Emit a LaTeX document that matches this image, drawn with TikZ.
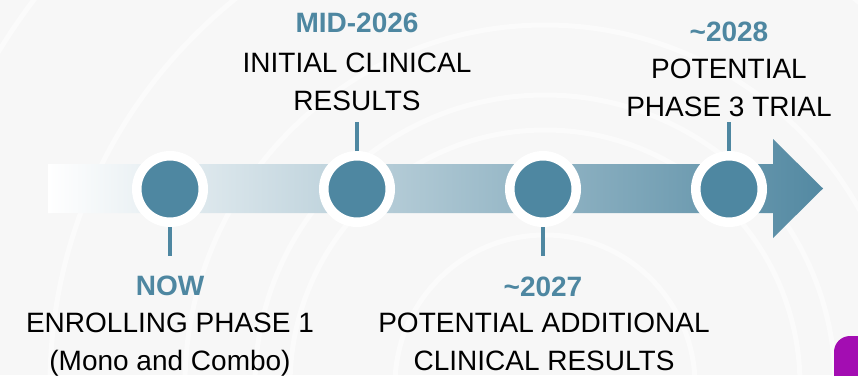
\documentclass[tikz,border=0pt]{standalone}
\usepackage{fontspec}
\setmainfont{Liberation Sans}
\usetikzlibrary{positioning}

\definecolor{teal1}{HTML}{4E87A1}
\definecolor{arrowend}{HTML}{5389A2}
\definecolor{bggray}{HTML}{F7F7F7}
\definecolor{accent}{HTML}{A30DB2}

\begin{document}
\begin{tikzpicture}[
  x=1pt, y=-1pt,
  milestone/.style={circle, fill=teal1, draw=white, line width=9.5pt, minimum size=66.5pt, inner sep=0pt, outer sep=0pt},
  tick/.style={draw=teal1, line width=4pt},
  date/.style={font=\fontsize{28}{37.5}\selectfont\bfseries, text=teal1, anchor=base, inner sep=0pt},
  desc/.style={font=\fontsize{28}{37.5}\selectfont, align=center, anchor=base, inner sep=0pt}
]
  % page with faint rings
  \fill[bggray] (0,0) rectangle (858,375);
  \useasboundingbox (0,0) rectangle (858,375);
  \begin{scope}
    \clip (0,0) rectangle (858,375);
    \foreach \r in {150,255,290,360,495,640}
      \draw[white, line width=5pt, opacity=0.55] (545,385) circle[radius=\r];
    \fill[accent, rounded corners=16pt] (834,336) rectangle (890,400);
  \end{scope}

  % timeline arrow
  \shade[left color=white, right color=arrowend]
    (48,164) -- (773,164) -- (773,139) -- (823,188.5) -- (773,238) -- (773,213) -- (48,213) -- cycle;

  % milestones
  \node[milestone] (now) at (170,189) {};
  \node[milestone] (mid26) at (357,189) {};
  \node[milestone] (y27) at (543,189) {};
  \node[milestone] (y28) at (729,189) {};

  \draw[tick] (now.south) ++(0,4.75) -- ++(0,29);
  \draw[tick] (mid26.north) ++(0,-4.75) -- ++(0,-29);
  \draw[tick] (y27.south) ++(0,4.75) -- ++(0,29);
  \draw[tick] (y28.north) ++(0,-4.75) -- ++(0,-29);

  % labels (desc nodes sit on the baseline of their last line)
  \node[date] (nowdate) at (170,295) {NOW};
  \node[desc] (nowtext) at (170,370) {ENROLLING PHASE 1\\(Mono and Combo)};
  \node[date] (mid26date) at (357,32.5) {MID-2026};
  \node[desc] (mid26text) at (357,110) {INITIAL CLINICAL\\RESULTS};
  \node[date] (y27date) at (543,296) {\textasciitilde2027};
  \node[desc] (y27text) at (544,370) {POTENTIAL ADDITIONAL\\CLINICAL RESULTS};
  \node[date] (y28date) at (729,41) {\textasciitilde2028};
  \node[desc] (y28text) at (729,116) {POTENTIAL\\PHASE 3 TRIAL};
\end{tikzpicture}
\end{document}
